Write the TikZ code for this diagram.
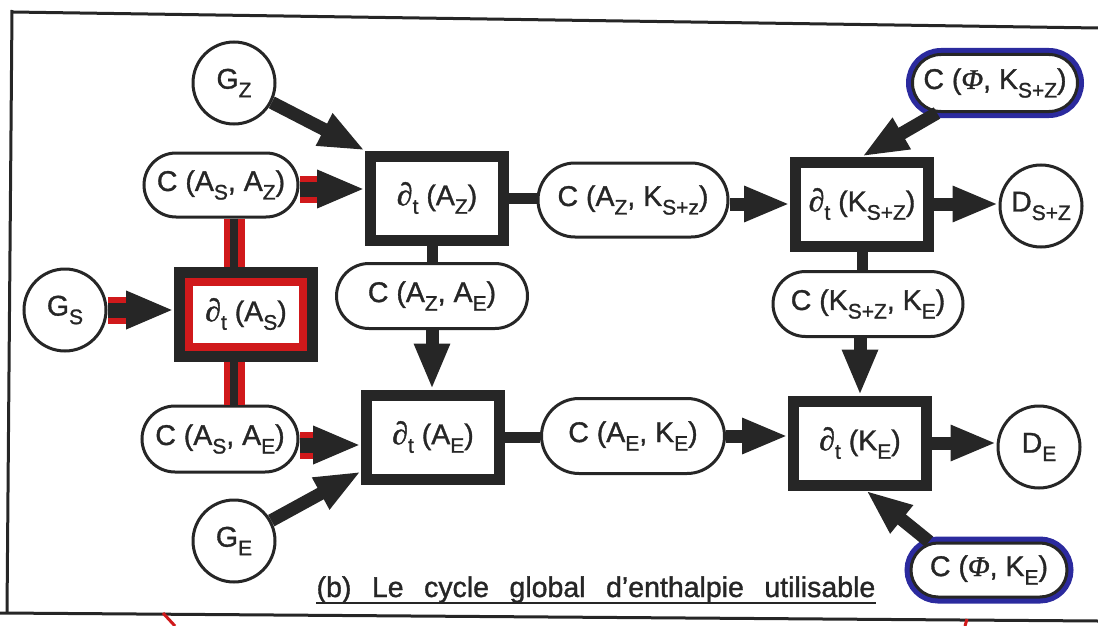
\documentclass[tikz,border=0pt]{standalone}
\usepackage{fontspec}
\setmainfont{Liberation Sans}[FakeBold=1.2]
\newfontfamily\symf{Liberation Serif}[FakeBold=1.2]
\usetikzlibrary{arrows.meta,calc,shapes.misc}
\definecolor{ink}{HTML}{262626}
\definecolor{redm}{HTML}{D0191B}
\definecolor{bluem}{HTML}{2B2A9E}
\newcommand\lsub[1]{\raisebox{-0.3em}{\fontsize{21pt}{21pt}\selectfont #1}}
\newcommand\pd{{\symf\itshape\fontsize{32pt}{32pt}\selectfont ∂}\lsub{t}}
\newcommand\Phii{{\symf\itshape Φ}}
\newcommand\gap{\hskip 20.5pt}
\tikzset{
  txt/.style={font=\fontsize{28.5pt}{31pt}\selectfont, text=ink},
  pill/.style={txt, rounded rectangle, draw=ink, line width=3pt, fill=white, inner sep=0pt},
  phipill/.style={pill, preaction={draw=bluem, line width=13pt}},
  circ/.style={txt, circle, draw=ink, line width=3pt, minimum size=82pt, inner sep=0pt, fill=white},
  stock/.style={txt, rectangle, draw=ink, line width=11pt, minimum width=133pt, minimum height=84pt, inner sep=0pt, fill=white},
  flow/.style={draw=ink, line width=13pt, -{Triangle[length=46pt,width=33pt]}},
  redflow/.style={draw=ink, line width=15pt, -{Triangle[length=48pt,width=35pt]}},
  redband/.style={draw=redm, line width=27pt},
  link/.style={draw=ink, line width=11pt},
  frame/.style={draw=ink, line width=3pt},
}
\begin{document}
\begin{tikzpicture}[x=1pt,y=-1pt]
\useasboundingbox (0,0) rectangle (1098,626);
% frame
\draw[frame] (12,12) -- (1098,28);
\draw[frame] (12,10) -- (7,613);
\draw[frame] (0,613) -- (1098,621);
\draw[redm, line width=3pt] (163,613) -- (175,626);
\draw[redm, line width=3pt] (967,619) -- (965,626);
% nodes
\node[circ] (gz) at (234,83) {G\lsub{Z}};
\node[pill, minimum width=154pt, minimum height=64pt] (caz) at (221,185) {C (A\lsub{S}, A\lsub{Z})};
\node[stock] (az) at (437,198) {\pd\ (A\lsub{Z})};
\node[stock] (as) at (246,314) {\pd\ (A\lsub{S})};
\draw[redm, line width=8pt] ([shift={(15pt,-15pt)}]as.north west) rectangle ([shift={(-15pt,15pt)}]as.south east);
\node[circ] (gs) at (65,310) {G\lsub{S}};
\node[pill, minimum width=191pt, minimum height=65pt] (cze) at (432,296) {C (A\lsub{Z}, A\lsub{E})};
\node[pill, minimum width=156pt, minimum height=66pt] (cse) at (220,439) {C (A\lsub{S}, A\lsub{E})};
\node[stock] (ae) at (433,437) {\pd\ (A\lsub{E})};
\node[circ] (ge) at (234,541) {G\lsub{E}};
\node[pill, minimum width=190pt, minimum height=74pt] (czk) at (633,200) {C (A\lsub{Z}, K\lsub{S+z})};
\node[stock] (ks) at (862,204) {\pd\ (K\lsub{S+Z})};
\node[circ] (ds) at (1041,206) {D\lsub{S+Z}};
\node[phipill, minimum width=165pt, minimum height=57pt] (cpk) at (995,83) {C (\Phii, K\lsub{S+Z})};
\node[pill, minimum width=190pt, minimum height=65pt] (ckk) at (868,304) {C (K\lsub{S+Z}, K\lsub{E})};
\node[stock] (ke) at (860,443) {\pd\ (K\lsub{E})};
\node[pill, minimum width=183pt, minimum height=75pt] (cek) at (633,436) {C (A\lsub{E}, K\lsub{E})};
\node[circ] (de) at (1039,447) {D\lsub{E}};
\node[phipill, minimum width=156pt, minimum height=54pt] (cpe) at (989,570) {C (\Phii, K\lsub{E})};
% title
\node[txt, anchor=base, inner sep=0pt] (title) at (596,597) {(b)\gap Le\gap cycle\gap global\gap d'enthalpie\gap utilisable};
\draw[draw=ink, line width=2pt] ([yshift=-6pt]title.base west) -- ([yshift=-6pt]title.base east);
% connectors
\draw[flow] (gz) -- (az.north west);
\draw[redband] ([yshift=-4pt]caz.east) -- ++(18,0);
\draw[redflow] ([yshift=-4pt]caz.east) -- ([yshift=-4pt]caz.east -| az.west);
\draw[link] (cze.north |- az.south) -- (cze.north);
\draw[flow] (cze.south) -- (cze.south |- ae.north);
\draw[link] (az.east) -- (az.east -| czk.west);
\draw[flow] (ks.west -| czk.east) -- (ks.west);
\draw[flow] (ks.east) -- (ks.east -| ds.west);
\draw[flow] ([xshift=-58pt]cpk.south) -- (ks.north);
\draw[link] (ks.south) -- (ks.south |- ckk.north);
\draw[flow] (ke.north |- ckk.south) -- (ke.north);
\draw[link] (ae.east) -- (ae.east -| cek.west);
\draw[flow] (cek.east) -- (cek.east -| ke.west);
\draw[flow] (ke.east) -- (ke.east -| de.west);
\draw[flow] ([xshift=-60pt]cpe.north) -- ([xshift=6pt]ke.south);
\draw[redband] (gs.east) -- ++(19,0);
\draw[redflow] (gs.east) -- (gs.east -| as.west);
\draw[redband] ([yshift=-6pt]cse.east) -- ++(18,0);
\draw[redflow] ([yshift=-6pt]cse.east) -- ([yshift=-6pt]cse.east -| ae.west);
\draw[flow] (ge) -- ([yshift=13pt]ae.south west);
% red double connectors
\draw[draw=redm, line width=21pt] ([xshift=13pt]caz.south) -- ([xshift=13pt]caz.south |- as.north);
\draw[draw=ink, line width=8pt] ([xshift=13pt]caz.south) -- ([xshift=13pt]caz.south |- as.north);
\draw[draw=redm, line width=21pt] ([xshift=14pt]cse.north) -- ([xshift=14pt]cse.north |- as.south);
\draw[draw=ink, line width=8pt] ([xshift=14pt]cse.north) -- ([xshift=14pt]cse.north |- as.south);
\end{tikzpicture}
\end{document}
